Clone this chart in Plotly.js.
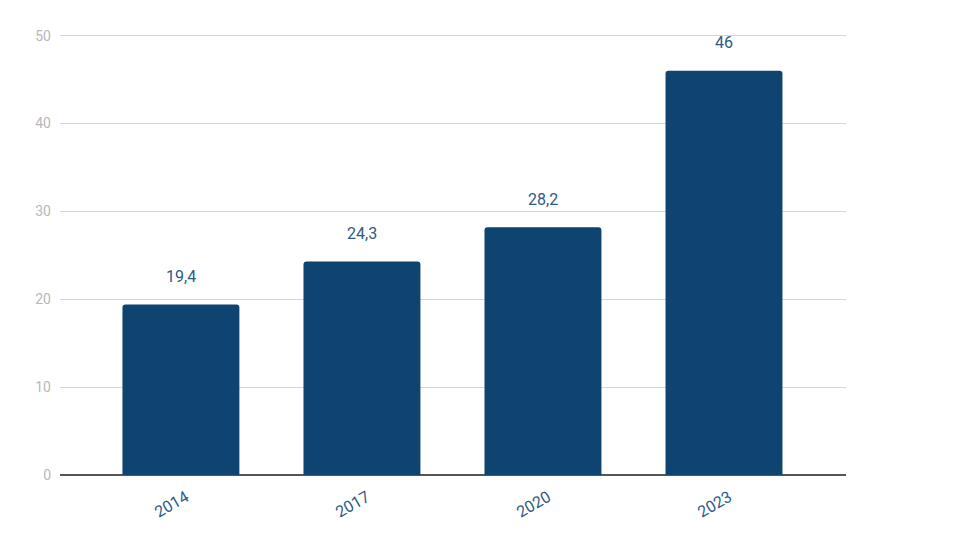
<!DOCTYPE html>
<html><head><meta charset="utf-8">
<script src="https://cdn.plot.ly/plotly-3.0.1.min.js"></script>
<style>html,body{margin:0;padding:0;background:#fff}#c{width:960px;height:540px}</style>
</head><body><div id="c"></div>
<script>
const years = ['2014', '2017', '2020', '2023'];
const values = [19.4, 24.3, 28.2, 46];
const labels = values.map(v => String(v).replace('.', ','));

const barColor = '#0f4470';
const labelColor = '#2c5a85';

const data = [{
  type: 'bar',
  x: years,
  y: values,
  marker: {color: barColor, cornerradius: 3},
  hoverinfo: 'skip'
}];

const annotations = years.map((yr, i) => ({
  x: i, y: values[i], xref: 'x', yref: 'y',
  text: labels[i], showarrow: false, yshift: 28, yanchor: 'middle',
  font: {family: 'Roboto', size: 16, color: labelColor}
}));

const layout = {
  width: 960, height: 540,
  margin: {l: 60, r: 114, t: 33, b: 65},
  paper_bgcolor: '#fff', plot_bgcolor: '#fff',
  bargap: 0.354,
  showlegend: false,
  separators: ',.',
  xaxis: {
    type: 'category', range: [-0.668, 3.674],
    tickangle: -30, showgrid: false, zeroline: false, showline: false,
    ticks: '', ticklabelstandoff: 9, ticklabelshift: 5,
    tickfont: {family: 'Roboto', size: 16, color: labelColor}
  },
  yaxis: {
    range: [0, 50.3], tickvals: [0, 10, 20, 30, 40, 50],
    showgrid: true, gridcolor: '#d6d6d6', gridwidth: 1,
    zeroline: true, zerolinecolor: '#555', zerolinewidth: 1.5,
    showline: false, ticks: '', ticklabelstandoff: 8,
    tickfont: {family: 'Roboto', size: 14, color: '#b8b8b8'}
  },
  annotations: annotations
};

Plotly.newPlot('c', data, layout, {displayModeBar: false, staticPlot: true});
</script></body></html>
